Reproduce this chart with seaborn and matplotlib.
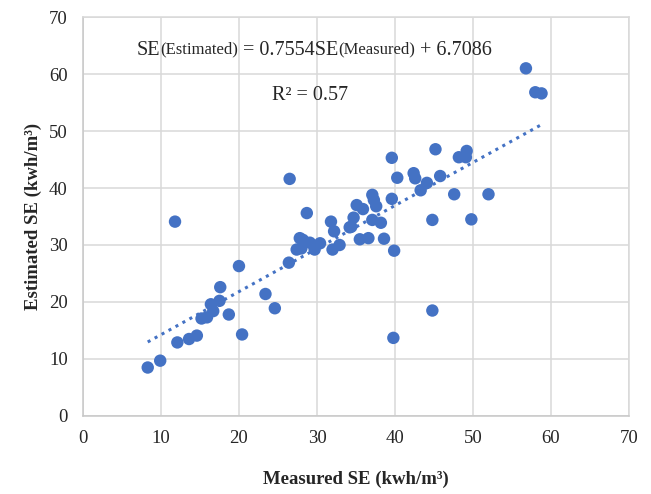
import numpy as np
import pandas as pd
import matplotlib
matplotlib.use("Agg")
import matplotlib.pyplot as plt
import seaborn as sns

# measured vs estimated SE (kwh/m3)
measured = [8.3, 9.9, 11.8, 12.1, 13.6, 14.6, 15.2, 15.9, 16.4, 16.7,
            17.5, 17.6, 18.7, 20.0, 20.4, 23.4, 24.6, 26.4, 26.5, 27.4,
            27.8, 28.0, 28.2, 28.7, 29.1, 29.7, 30.4, 31.8, 32.0, 32.2,
            32.9, 34.2, 34.4, 34.7, 35.1, 35.5, 35.9, 36.6, 37.1, 37.1,
            37.3, 37.6, 38.2, 38.6, 39.6, 39.6, 39.9, 39.8, 40.3, 42.4,
            42.6, 43.3, 44.1, 44.8, 44.8, 45.2, 45.8, 47.6, 48.2, 49.1,
            49.2, 49.8, 52.0, 56.8, 58.0, 58.8]
estimated = [8.5, 9.7, 34.1, 12.9, 13.5, 14.1, 17.1, 17.3, 19.6, 18.4,
             20.2, 22.6, 17.8, 26.3, 14.3, 21.4, 18.9, 26.9, 41.6, 29.2,
             31.2, 29.4, 30.9, 35.6, 30.4, 29.2, 30.3, 34.1, 29.2, 32.4,
             30.0, 33.1, 33.2, 34.8, 37.0, 31.0, 36.3, 31.2, 34.4, 38.8,
             37.9, 36.8, 33.9, 31.1, 45.3, 38.1, 29.0, 13.7, 41.8, 42.6,
             41.7, 39.6, 40.9, 34.4, 18.5, 46.8, 42.1, 38.9, 45.4, 45.4,
             46.5, 34.5, 38.9, 61.0, 56.8, 56.6]

slope = 0.7554
intercept = 6.7086
r2 = 0.57

df = pd.DataFrame({"measured": measured, "estimated": estimated})

sns.set_style("white")
plt.rcParams["font.family"] = ["Liberation Serif", "DejaVu Serif"]

fig = plt.figure(figsize=(6.51, 4.94), dpi=100)
ax = fig.add_axes([0.1275, 0.158, 0.8385, 0.8075])

blue = "#4472C4"
sns.scatterplot(data=df, x="measured", y="estimated", ax=ax, color=blue,
                s=80, edgecolor="none", zorder=3)

# linear trendline (dotted) over the data range
xs = np.array([min(measured), max(measured)])
ax.plot(xs, slope * xs + intercept, linestyle=(0, (1, 1.6)), color=blue,
        linewidth=2.2, zorder=2)

ax.set_xlim(0, 70)
ax.set_ylim(0, 70)
ax.set_xticks(range(0, 71, 10))
ax.set_yticks(range(0, 71, 10))
ax.grid(True, color="#D9D9D9", linewidth=1.1)
ax.set_axisbelow(True)
for sp in ax.spines.values():
    sp.set_color("#D9D9D9")
    sp.set_linewidth(1.1)
ax.spines["left"].set_color("#C8C8C8")
ax.spines["bottom"].set_color("#C8C8C8")
ax.tick_params(axis="both", length=0, labelsize=13.5)
ax.tick_params(axis="x", pad=10)
ax.tick_params(axis="y", pad=11)

ax.set_xlabel("Measured SE (kwh/m³)", fontsize=13.5, fontweight="bold", labelpad=17)
ax.set_ylabel("Estimated SE (kwh/m³)", fontsize=13.5, fontweight="bold", labelpad=5)

# equation with smaller parenthetical parts, chained piece by piece
pieces = [("SE", 14.5, 0), ("(Estimated)", 12, 2), (" = 0.7554SE", 14.5, -2),
          ("(Measured)", 12, 2), (" + 6.7086", 14.5, -2)]
prev = ax.text(6.9, 62.5, pieces[0][0], fontsize=pieces[0][1], va="bottom", ha="left")
for txt, fs, dy in pieces[1:]:
    prev = ax.annotate(txt, xy=(1, 0), xycoords=prev, xytext=(0, dy),
                       textcoords="offset points", fontsize=fs,
                       va="bottom", ha="left")

ax.text(24.2, 54.5, "R² = %.2f" % r2, fontsize=14.5, va="bottom", ha="left")

fig.savefig("out.png", dpi=100)
